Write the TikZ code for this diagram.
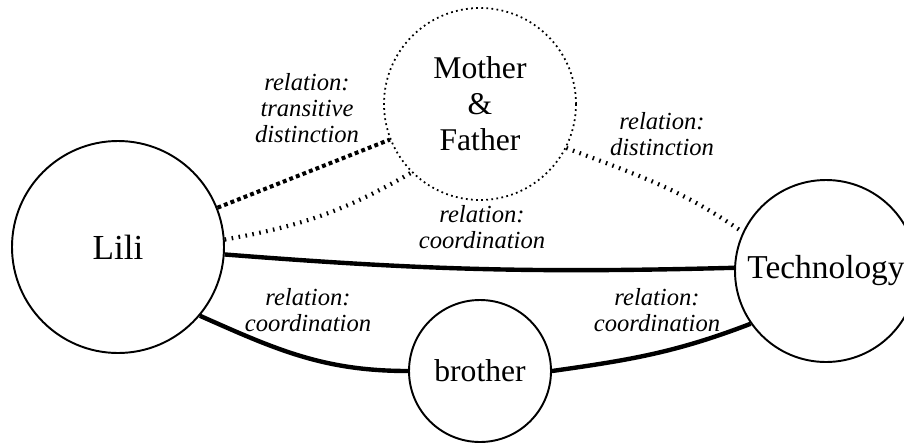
\documentclass[tikz,border=0pt]{standalone}
\usepackage{fontspec}
\setmainfont{Liberation Serif}
\begin{document}
\begin{tikzpicture}[line cap=butt,line join=miter,
		ent/.style={circle,draw,line width=1.1pt,inner sep=0pt,align=center,
			font=\fontsize{18}{20.5}\selectfont},
		rel/.style={align=center,font=\itshape\fontsize{14}{15}\selectfont},
		coord/.style={line width=2.5pt},
		transdist/.style={line width=2.3pt,dash pattern=on 2.2pt off 1.8pt},
		dist/.style={line width=2.4pt,dash pattern=on 0.9pt off 3.1pt}]
			\useasboundingbox (0,0) rectangle (18.08,8.88);
			% the four parties
			\node[ent,minimum size=4.24cm,font=\fontsize{20}{22}\selectfont] (lili) at (2.36,3.94) {Lili};
			\node[ent,minimum size=3.84cm,line width=1pt,dash pattern=on 1pt off 1.9pt]
				(mf) at (9.6,6.8) {Mother\\\&\\Father};
			\node[ent,minimum size=2.84cm] (brother) at (9.6,1.46) {brother};
			\node[ent,minimum size=3.64cm,font=\fontsize{19}{21}\selectfont] (tech) at (16.52,3.46) {Technology};
			% relations
			\draw[transdist] (lili) -- (mf);
			\draw[dist] (lili.4) to[out=10,in=210] (mf.225);
			\draw[dist] (mf.-27) to[out=-21,in=145] (tech.155);
			\draw[coord] (lili.-4) to[bend right=3] (tech.178);
			\draw[coord] (lili.-40) to[out=-24,in=180] (brother.west);
			\draw[coord] (brother.east) to[out=8,in=201] (tech.215);
			% labels
			\node[rel] (transl) at (6.14,6.72) {relation:\\transitive\\distinction};
			\node[rel] (distl) at (13.24,6.2) {relation:\\distinction};
			\node[rel] (coordl) at (9.64,4.34) {relation:\\coordination};
			\node[rel] (brol) at (6.16,2.68) {relation:\\coordination};
			\node[rel] (techl) at (13.14,2.68) {relation:\\coordination};
		\end{tikzpicture}
\end{document}
